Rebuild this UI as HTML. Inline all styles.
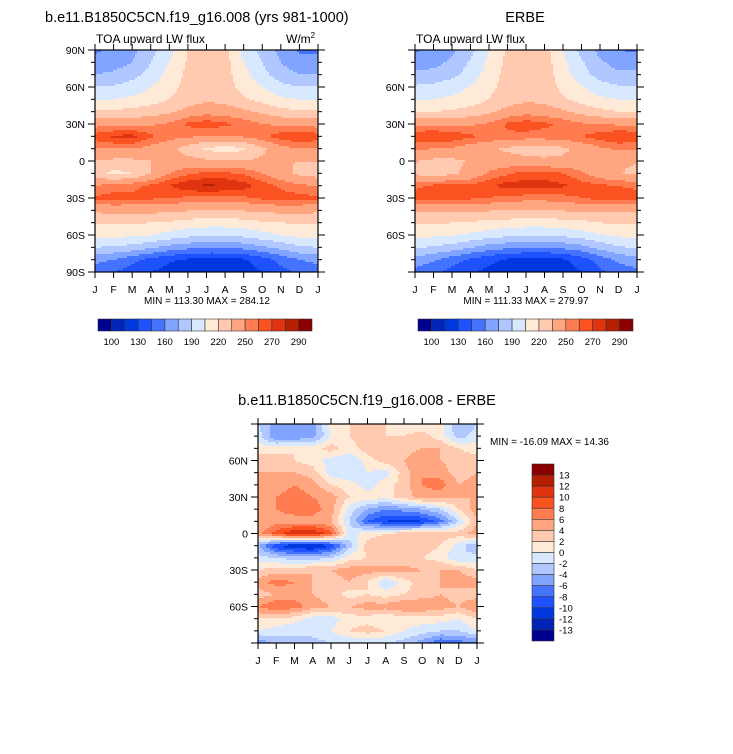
<!DOCTYPE html>
<html><head><meta charset="utf-8"><style>
body{margin:0;background:#fff;}
svg{display:block;font-family:"Liberation Sans",Helvetica,Arial,sans-serif;}
</style></head><body>
<svg id="root" width="733" height="754" viewBox="0 0 733 754">
<text x="45" y="22" font-size="14.5">b.e11.B1850C5CN.f19_g16.008 (yrs 981-1000)</text>
<text x="96" y="43" font-size="12">TOA upward LW flux</text>
<text x="286" y="43" font-size="12">W/m<tspan font-size="8" dy="-5">2</tspan></text>
<text x="525" y="22" font-size="14.5" text-anchor="middle">ERBE</text>
<text x="416" y="43" font-size="12">TOA upward LW flux</text>
<text x="207" y="304" font-size="10" text-anchor="middle">MIN = 113.30 MAX = 284.12</text>
<text x="526" y="304" font-size="10" text-anchor="middle">MIN = 111.33 MAX = 279.97</text>
<text x="367" y="405" font-size="14.5" text-anchor="middle">b.e11.B1850C5CN.f19_g16.008 - ERBE</text>
<text x="490" y="445" font-size="10">MIN = -16.09 MAX =  14.36</text>
<g id="layers"></g>
</svg>
<script>
const months = ["J","F","M","A","M","J","J","A","S","O","N","D","J"];
const latTicks = [90,60,30,0,-30,-60,-90];
const latTickLabels = ["90N","60N","30N","0","30S","60S","90S"];
const fluxLevels = [100,115,130,145,160,175,190,205,220,235,250,260,270,280,290];
const fluxLevelLabels = ["100","130","160","190","220","250","270","290"];
const diffLevels = [-13,-12,-10,-8,-6,-4,-2,0,2,4,6,8,10,12,13];
const diffLevelLabels = ["13","12","10","8","6","4","2","0","-2","-4","-6","-8","-10","-12","-13"];
const palette = ["#000090","#0024b4","#0038e0","#1e52ff","#4474ff","#80a4ff","#b0c8ff","#d8e8ff","#ffead8","#ffcab0","#ffa680","#ff7c50","#fa5220","#e03410","#b42000","#8a0000"];
// rows: 90N..90S every 10 deg; cols: J..J
const modelFlux = [
[158,162,170,185,200,220,228,225,200,185,170,158,158],
[165,168,175,190,205,222,228,226,205,190,175,165,165],
[175,178,185,195,210,224,228,226,210,195,182,175,175],
[190,192,196,205,215,225,228,227,215,205,195,190,190],
[205,205,208,213,220,228,232,230,222,215,208,205,205],
[222,222,225,228,232,240,245,243,238,232,225,222,222],
[245,245,245,248,252,262,266,262,258,250,248,245,245],
[265,272,274,262,255,252,250,250,252,258,265,270,265],
[250,250,250,245,240,228,218,212,218,232,245,250,250],
[235,232,232,235,238,240,238,236,236,238,236,235,235],
[228,215,220,235,250,258,262,262,258,250,240,232,228],
[250,255,258,262,270,278,282,280,275,265,258,252,250],
[262,264,262,262,260,258,256,256,258,262,265,264,262],
[238,240,240,240,238,236,234,234,236,238,240,240,238],
[222,222,222,220,218,214,212,212,214,218,220,222,222],
[210,210,208,205,200,195,192,192,195,200,205,210,210],
[190,188,185,178,170,165,162,162,165,172,180,188,190],
[165,160,150,140,132,128,125,125,128,138,150,160,165],
[150,145,138,130,125,120,118,118,122,130,140,148,150]];
const erbeFlux = [
[158,165,172,185,205,222,228,226,205,185,170,160,158],
[168,170,178,192,208,224,230,228,208,192,178,168,168],
[178,180,186,196,212,226,230,228,212,196,184,178,178],
[192,194,198,206,216,226,229,228,216,206,196,192,192],
[205,205,208,212,220,228,232,230,222,214,208,205,205],
[220,220,222,226,232,240,245,243,238,230,224,220,220],
[248,248,246,248,252,262,266,262,258,252,250,248,248],
[268,270,268,262,258,258,256,256,258,260,265,270,268],
[252,250,248,242,238,232,228,228,232,240,248,252,252],
[236,232,232,236,240,242,240,238,238,240,238,236,236],
[232,228,232,240,252,258,264,264,260,252,242,236,232],
[258,262,262,262,268,275,275,275,272,265,262,260,258],
[264,264,262,262,260,256,255,255,256,260,264,264,264],
[238,238,238,238,236,235,234,234,236,238,238,238,238],
[222,222,220,218,216,214,212,212,214,216,220,222,222],
[210,208,206,202,198,194,192,192,194,198,204,208,210],
[192,188,184,176,168,164,160,160,164,170,180,188,192],
[170,162,152,142,134,128,125,124,128,138,152,164,170],
[155,148,140,132,126,120,115,115,120,130,142,150,155]];
const diffFlux = [
[-2,-5,-6,-5,1,2,3,2,1,0,1,-4,-2],
[-1,-6,-6,-5,0,2,3,2,2,3,1,-3,-1],
[1,1,2,1,3,1,3,4,3,4,4,2,1],
[3,3,2,1,-1,-2,1,3,4,6,4,3,3],
[4,4,4,3,-1,-2,0,-1,3,6,5,3,4],
[5,5,6,5,2,1,-1,1,3,6,7,4,5],
[4,6,7,6,5,2,1,1,3,5,5,4,4],
[5,6,7,7,5,-1,-4,-6,-5,-4,-2,2,5],
[4,5,5,5,4,-2,-8,-10,-11,-10,-7,-2,4],
[5,9,12,12,9,-1,1,2,3,3,3,3,5],
[-4,-10,-12,-13,-10,-3,3,4,4,3,2,-1,-4],
[-1,-2,-3,-3,-2,1,2,2,2,2,1,-2,-1],
[2,3,3,4,4,5,5,5,5,4,4,4,2],
[5,7,6,4,3,4,2,-2,1,3,4,5,5],
[3,4,5,4,3,1,2,1,2,3,4,3,3],
[6,8,7,5,4,4,5,5,6,6,5,4,6],
[2,2,1,-1,-1,1,1,0,1,1,1,0,2],
[0,-1,-2,-1,0,2,3,2,0,-1,-2,-2,0],
[-6,-3,-2,-3,-2,-2,-2,-2,-3,-5,-8,-7,-6]];

const NS="http://www.w3.org/2000/svg";
const layers=document.getElementById('layers');
function mk(tag,attrs,parent){const e=document.createElementNS(NS,tag);for(const k in attrs)e.setAttribute(k,attrs[k]);(parent||layers).appendChild(e);return e;}
function levelIndex(v,levels){let i=0;while(i<levels.length&&v>=levels[i])i++;return i;}
function sample(grid,u,v){const c0=Math.max(0,Math.min(Math.floor(u),grid[0].length-2)),r0=Math.max(0,Math.min(Math.floor(v),grid.length-2));const fu=Math.min(1,u-c0),fv=Math.min(1,v-r0);
 return grid[r0][c0]*(1-fu)*(1-fv)+grid[r0][c0+1]*fu*(1-fv)+grid[r0+1][c0]*(1-fu)*fv+grid[r0+1][c0+1]*fu*fv;}

function panel(name,grid,levels,x0,y0,w,h,showPoles){
 const g=mk('g',{});
 
 
 const xs=m=>x0+m/12*w, ys=lat=>y0+(90-lat)/180*h;
 const step=2;
 for(let py=0;py<h;py+=step){
  let runStart=0,runCol=null;
  const rh=Math.min(step,h-py)+0.3;
  const v=Math.min(py+step/2,h)/h*(grid.length-1);
  for(let px=0;;px+=step){
   const end=px>=w;
   let col=null;
   if(!end){const u=Math.min(px+step/2,w)/w*(grid[0].length-1);col=palette[levelIndex(sample(grid,u,v),levels)];}
   if(col!==runCol){
    if(runCol!==null){const r=mk('rect',{x:x0+runStart,y:y0+py,width:Math.min(px,w)-runStart+0.3,height:rh,fill:runCol},g);
     
     }
    runStart=px;runCol=col;}
   if(end)break;
  }
 }
 const frame=mk('rect',{x:x0,y:y0,width:w,height:h,fill:'none',stroke:'#000','stroke-width':1.2},g);
 
 
 const ax=mk('g',{stroke:'#000','stroke-width':1},g);
 
 
 months.forEach((m,i)=>{const x=xs(i);
  mk('line',{x1:x,y1:y0,x2:x,y2:y0-6},ax);mk('line',{x1:x,y1:y0+h,x2:x,y2:y0+h+6},ax);
  const t=mk('text',{x:x,y:y0+h+21,'font-size':10.5,'text-anchor':'middle',stroke:'none'},g);t.textContent=m;
  
  });
 for(let lat=80;lat>=-80;lat-=10){const y=ys(lat);
  if(lat%30===0)continue;
  mk('line',{x1:x0,y1:y,x2:x0-4,y2:y},ax);mk('line',{x1:x0+w,y1:y,x2:x0+w+4,y2:y},ax);}
 latTicks.forEach((lat,i)=>{const y=ys(lat);
  mk('line',{x1:x0,y1:y,x2:x0-7,y2:y},ax);mk('line',{x1:x0+w,y1:y,x2:x0+w+7,y2:y},ax);
  if(!showPoles&&Math.abs(lat)===90)return;
  const t=mk('text',{x:x0-10,y:y+4,'font-size':10.5,'text-anchor':'end',stroke:'none'},g);t.textContent=latTickLabels[i];
  
  });
}
function hbar(name,x0,y0,w,h,labels){
 const g=mk('g',{});
 
 
 const bw=w/16;
 palette.forEach((c,i)=>{const r=mk('rect',{x:x0+i*bw,y:y0,width:bw,height:h,fill:c,stroke:'#333','stroke-width':0.6},g);
  
  });
 labels.forEach((l,i)=>{const t=mk('text',{x:x0+bw*(1+2*i),y:y0+h+14,'font-size':9.5,'text-anchor':'middle'},g);t.textContent=l;
  
  });
}
function vbar(name,x0,y0,w,h,labels){
 const g=mk('g',{});
 
 
 const bh=h/16;
 palette.slice().reverse().forEach((c,i)=>{const r=mk('rect',{x:x0,y:y0+i*bh,width:w,height:bh,fill:c,stroke:'#333','stroke-width':0.6},g);
  
  });
 labels.forEach((l,i)=>{const t=mk('text',{x:x0+w+5,y:y0+bh*(i+1)+3.5,'font-size':9.5},g);t.textContent=l;
  
  });
}
panel('model',modelFlux,fluxLevels,95,50,223,222,true);
panel('erbe',erbeFlux,fluxLevels,415,50,222,222,false);
panel('diff',diffFlux,diffLevels,258,424,219,219,false);
hbar('model-colorbar',98,319,214,12,fluxLevelLabels);
hbar('erbe-colorbar',418,319,215,12,fluxLevelLabels);
vbar('diff-colorbar',532,464,22,177,diffLevelLabels);
</script>
</body></html>
